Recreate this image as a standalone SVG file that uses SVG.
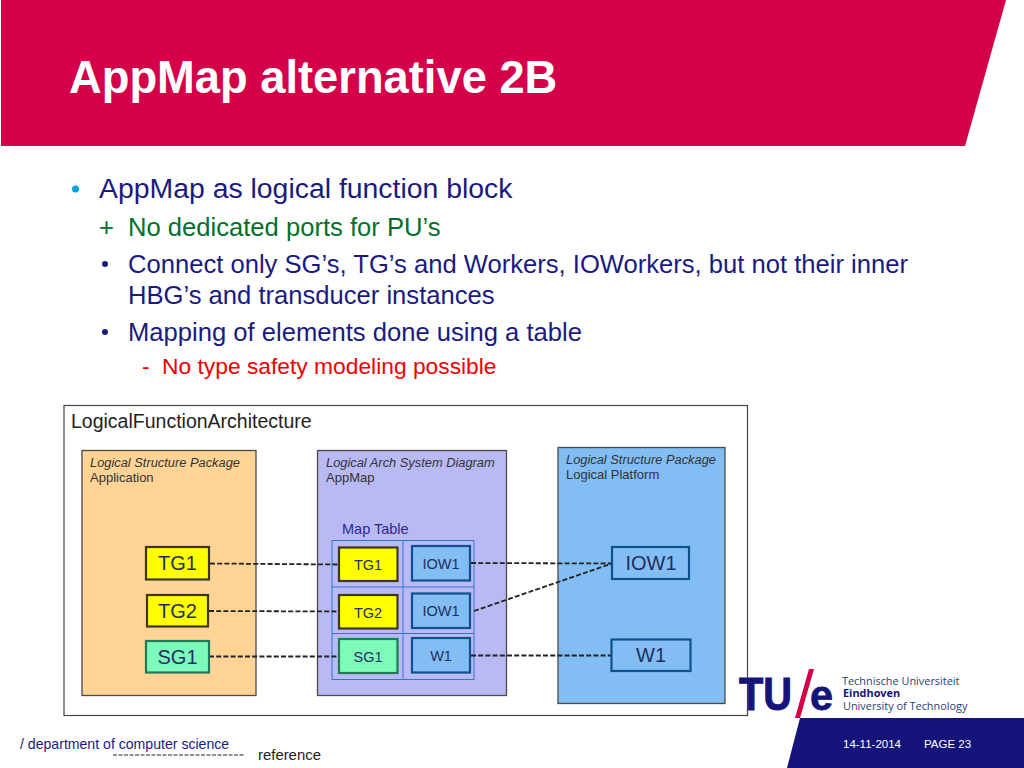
<svg xmlns="http://www.w3.org/2000/svg" width="1024" height="768" viewBox="0 0 1024 768">
<style>
text{font-family:"Liberation Sans",Arial,sans-serif}
.b1{font-size:28.4px;fill:#1a1a80}
.b2{font-size:25.6px}
.navy{fill:#1a1a80}
.pkg{stroke:#4a4a4a;stroke-width:1.3}
.it{font-size:12.85px;font-style:italic;fill:#333}
.nm{font-size:13px;fill:#333}
.grid{fill:none;stroke:#2f78c8;stroke-width:1}
.y{fill:#ffff00;stroke:#3d3520;stroke-width:2.2}
.g{fill:#7dfbbb;stroke:#1f7a55;stroke-width:2.2}
.w{fill:#82bdf3;stroke:#10508f;stroke-width:2.2}
.big{font-size:20px;text-anchor:middle;fill:#1f2f60}
.sm{font-size:14.5px;text-anchor:middle;fill:#1f2f60}
.c line{stroke:#222;stroke-width:1.8;stroke-dasharray:5 2.2}
.lg{font-family:"Open Sans","Liberation Sans",sans-serif;font-size:10.9px;fill:#2a4070}
</style>
<rect width="1024" height="768" fill="#fff"/>
<g id="header">
<polygon points="1,0 1006,0 965,146 1,146" fill="#d5004a"/>
<text x="69" y="93" font-size="45.300" font-weight="700" fill="#fff">AppMap alternative 2B</text>
</g>
<g id="bullets">
<circle cx="75.500" cy="189" r="3.500" fill="#00a2de"/>
<text class="b1" x="99" y="198">AppMap as logical function block</text>
<text class="b2" x="99" y="236" fill="#00702a">+</text>
<text class="b2" x="128" y="236" fill="#00702a">No dedicated ports for PU’s</text>
<circle cx="105" cy="264" r="3" fill="#1a1a80"/>
<text class="b2 navy" x="128" y="273">Connect only SG’s, TG’s and Workers, IOWorkers, but not their inner</text>
<text class="b2 navy" x="128" y="304">HBG’s and transducer instances</text>
<circle cx="105" cy="332" r="3" fill="#1a1a80"/>
<text class="b2 navy" x="128" y="341">Mapping of elements done using a table</text>
<text x="142" y="374" font-size="22.800" fill="#f00000">-</text>
<text x="162" y="374" font-size="22.800" fill="#f00000">No type safety modeling possible</text>
</g>
<g id="architecture">
<rect x="64" y="405.500" width="683.500" height="310" fill="#fff" stroke="#444" stroke-width="1.200"/>
<text x="71" y="428" font-size="19.500" fill="#222">LogicalFunctionArchitecture</text>
</g>
<g id="pkg-application">
<rect class="pkg" x="82" y="450.500" width="174" height="245" fill="#ffd494"/>
<text class="it" x="90" y="467">Logical Structure Package</text>
<text class="nm" x="90" y="482">Application</text>
</g>
<g id="pkg-appmap">
<rect class="pkg" x="317.500" y="450.500" width="189" height="245" fill="#b9b9f3"/>
<text class="it" x="326" y="467">Logical Arch System Diagram</text>
<text class="nm" x="326" y="482">AppMap</text>
<text x="342" y="534" font-size="14.500" fill="#2a2a90">Map Table</text>
</g>
<g id="pkg-platform">
<rect class="pkg" x="558" y="447.500" width="167" height="256" fill="#82bdf3"/>
<text class="it" x="566" y="464">Logical Structure Package</text>
<text class="nm" x="566" y="479">Logical Platform</text>
</g>
<g id="map-table">
<rect class="grid" x="332" y="540.500" width="142" height="139"/>
<path class="grid" d="M403 540.500V679.500M332 587H474M332 633.500H474"/>
</g>
<g class="c" id="connectors">
<line x1="210" y1="563.500" x2="338" y2="564.500"/>
<line x1="209" y1="611" x2="338" y2="611.500"/>
<line x1="209" y1="656.500" x2="338" y2="656.500"/>
<line x1="471" y1="563" x2="612" y2="563.500"/>
<line x1="474" y1="611" x2="612" y2="563.500"/>
<line x1="471" y1="655.500" x2="611" y2="655.500"/>
</g>
<g id="app-tg1"><rect class="y" x="146" y="547" width="63" height="32.500"/><text class="big" x="177.500" y="570">TG1</text></g>
<g id="app-tg2"><rect class="y" x="147" y="595" width="61" height="31.500"/><text class="big" x="177.500" y="618">TG2</text></g>
<g id="app-sg1"><rect class="g" x="146" y="641" width="63" height="31.500"/><text class="big" x="177.500" y="664">SG1</text></g>
<g id="map-tg1"><rect class="y" x="339" y="547.500" width="58.500" height="33.500"/><text class="sm" x="368" y="570">TG1</text></g>
<g id="map-tg2"><rect class="y" x="339" y="595" width="58.500" height="33.500"/><text class="sm" x="368" y="618">TG2</text></g>
<g id="map-sg1"><rect class="g" x="339" y="639" width="58.500" height="34"/><text class="sm" x="368" y="662">SG1</text></g>
<g id="map-iow1a"><rect class="w" x="412" y="546" width="58" height="34.500"/><text class="sm" x="441" y="569">IOW1</text></g>
<g id="map-iow1b"><rect class="w" x="412" y="593.500" width="58" height="34.500"/><text class="sm" x="441" y="616">IOW1</text></g>
<g id="map-w1"><rect class="w" x="412" y="638" width="58" height="34.500"/><text class="sm" x="441" y="661">W1</text></g>
<g id="plat-iow1"><rect class="w" x="612" y="547" width="77" height="32"/><text class="big" x="651" y="570">IOW1</text></g>
<g id="plat-w1"><rect class="w" x="611.500" y="639.500" width="79" height="31.500"/><text class="big" x="651" y="662">W1</text></g>
<g id="logo">
<text x="739" y="710" font-size="46" font-weight="700" fill="#14147a" stroke="#14147a" stroke-width="1" textLength="53" lengthAdjust="spacingAndGlyphs">TU</text>
<text x="810" y="710" font-size="42" font-weight="700" fill="#14147a" stroke="#14147a" stroke-width="0.800" textLength="23" lengthAdjust="spacingAndGlyphs">e</text>
<polygon points="809,669 814,669 800,718 795,718" fill="#d5004a"/>
<text class="lg" x="842" y="685">Technische Universiteit</text>
<text class="lg" x="843" y="697" font-weight="700" style="fill:#14147a">Eindhoven</text>
<text class="lg" x="843" y="710">University of Technology</text>
</g>
<g id="footer">
<polygon points="800,718 1024,718 1024,768 787,768" fill="#14147a"/>
<text x="843" y="748" font-size="11.500" fill="#fff">14-11-2014</text>
<text x="924" y="748" font-size="11.500" fill="#fff">PAGE 23</text>
<text x="20" y="749" font-size="14.100" fill="#1a1a80">/ department of computer science</text>
<line x1="113" y1="755" x2="244" y2="755" stroke="#222" stroke-width="1.200" stroke-dasharray="4 1.500"/>
<text x="258" y="760" font-size="14.900" fill="#222">reference</text>
</g>
</svg>
